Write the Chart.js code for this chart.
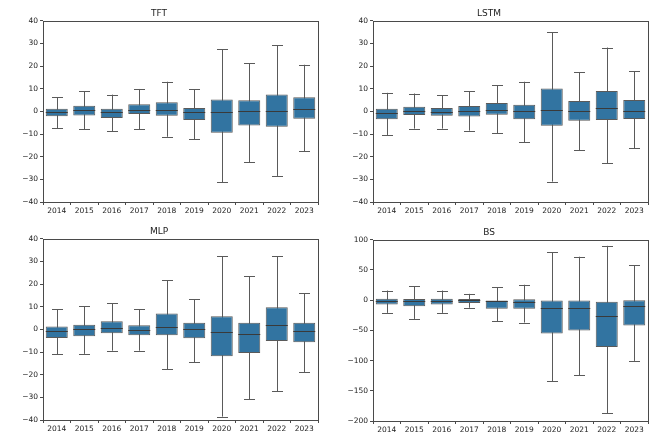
<!DOCTYPE html>
<html>
<head>
<meta charset="utf-8">
<script src="https://cdn.jsdelivr.net/npm/chart.js@4.4.1/dist/chart.umd.min.js"></script>
<style>
  body { margin: 0; background: #fff; }
  .box { position: absolute; width: 330px; height: 219px; }
</style>
</head>
<body>
<div class="box" style="left:0;top:0"><canvas id="tft"></canvas></div>
<div class="box" style="left:330px;top:0"><canvas id="lstm"></canvas></div>
<div class="box" style="left:0;top:218px"><canvas id="mlp"></canvas></div>
<div class="box" style="left:330px;top:219px"><canvas id="bs"></canvas></div>
<script>
const years = ['2014', '2015', '2016', '2017', '2018', '2019', '2020', '2021', '2022', '2023'];

// TFT
const tftLow = [-7.4, -7.9, -8.8, -7.8, -11.2, -12.2, -31.3, -22.4, -28.5, -17.5];
const tftQ1 = [-2.1, -1.8, -2.9, -1.2, -1.9, -3.8, -9.4, -6.2, -6.8, -3.2];
const tftMed = [-0.2, 0.7, -0.2, 0.7, 0.6, -0.3, -0.3, 0.1, 0.1, 1.0];
const tftQ3 = [1.2, 2.5, 1.2, 3.2, 4.0, 1.5, 5.3, 4.9, 7.5, 6.2];
const tftHigh = [6.3, 8.8, 7.4, 9.9, 13.1, 9.7, 27.4, 21.2, 29.1, 20.6];

// LSTM
const lstmLow = [-10.4, -7.6, -7.6, -8.5, -9.6, -13.7, -31.0, -17.1, -22.8, -16.2];
const lstmQ1 = [-3.5, -1.6, -1.9, -2.2, -1.5, -3.5, -6.3, -4.1, -3.8, -3.4];
const lstmMed = [-0.7, 0.1, -0.1, 0.1, 0.7, 0.3, 0.6, 0.1, 1.3, 0.1];
const lstmQ3 = [1.2, 2.1, 1.5, 2.4, 3.7, 2.9, 10.1, 4.6, 9.0, 5.0];
const lstmHigh = [8.2, 7.9, 7.1, 9.0, 11.6, 13.1, 34.9, 17.4, 28.2, 17.8];

// MLP
const mlpLow = [-11.0, -10.8, -9.4, -9.4, -17.5, -14.4, -38.5, -30.9, -27.2, -18.8];
const mlpQ1 = [-3.8, -3.0, -1.7, -2.6, -2.6, -3.9, -11.9, -10.4, -5.1, -5.7];
const mlpMed = [-0.8, 0.1, 0.7, -0.4, 1.1, 0.1, -1.3, -2.0, 1.8, -0.8];
const mlpQ3 = [1.3, 2.1, 3.6, 1.8, 7.0, 2.9, 5.8, 2.9, 9.8, 2.9];
const mlpHigh = [8.9, 10.2, 11.6, 8.8, 21.7, 13.3, 32.4, 23.5, 32.4, 16.0];

// BS
const bsLow = [-21, -31, -21, -12.5, -34.8, -37, -134.5, -124, -187, -100.5];
const bsQ1 = [-7, -10, -7, -4.6, -14.2, -14.2, -55, -50, -77.4, -42];
const bsMed = [-1.3, -1.3, -0.7, -0.2, -1.3, -3, -13.6, -12.5, -25.4, -9.7];
const bsQ3 = [2.6, 2, 2.6, 2, -0.7, 1.5, -0.7, -0.7, -2.4, -0.2];
const bsHigh = [16, 23, 16, 10.5, 21.7, 25.6, 79.2, 72, 90, 58];

const boxFill = '#3274a1';
const lineColor = '#5a5a5a';
const medianColor = '#3a3a3a';
const frameColor = '#4a4a4a';
const font = 'DejaVu Sans';

const boxPlugin = {
  id: 'boxParts',
  beforeDatasetsDraw(chart) {
    const st = chart.options.plugins.boxParts;
    const x = chart.scales.x, y = chart.scales.y;
    const meta = chart.getDatasetMeta(0);
    const ctx = chart.ctx;
    ctx.save();
    ctx.strokeStyle = lineColor;
    ctx.lineWidth = 1;
    st.low.forEach((v, i) => {
      const cx = Math.round(x.getPixelForValue(i)) + 0.5;
      const half = meta.data[i].width / 4;
      const yl = y.getPixelForValue(v), yh = y.getPixelForValue(st.high[i]);
      ctx.beginPath();
      ctx.moveTo(cx, yl); ctx.lineTo(cx, yh);
      ctx.moveTo(cx - half, Math.round(yl) + 0.5); ctx.lineTo(cx + half, Math.round(yl) + 0.5);
      ctx.moveTo(cx - half, Math.round(yh) + 0.5); ctx.lineTo(cx + half, Math.round(yh) + 0.5);
      ctx.stroke();
    });
    ctx.restore();
  },
  afterDatasetsDraw(chart) {
    const st = chart.options.plugins.boxParts;
    const x = chart.scales.x, y = chart.scales.y;
    const meta = chart.getDatasetMeta(0);
    const ctx = chart.ctx;
    ctx.save();
    ctx.strokeStyle = medianColor;
    ctx.lineWidth = 1;
    st.med.forEach((v, i) => {
      const cx = x.getPixelForValue(i);
      const half = meta.data[i].width / 2;
      const ym = Math.round(y.getPixelForValue(v)) + 0.5;
      ctx.beginPath();
      ctx.moveTo(cx - half, ym); ctx.lineTo(cx + half, ym);
      ctx.stroke();
    });
    const a = chart.chartArea;
    ctx.strokeStyle = frameColor;
    ctx.strokeRect(Math.round(a.left) + 0.5, Math.round(a.top) + 0.5,
      Math.round(a.right - a.left), Math.round(a.bottom - a.top));
    ctx.restore();
  }
};

function minus(v) {
  return String(v).replace('-', '\u2212');
}

function createBox(id, title, low, q1, med, q3, high, yMin, yMax, yStep) {
  const config = {
    type: 'bar',
    data: {
      labels: years,
      datasets: [{
        data: q1.map((v, i) => [v, q3[i]]),
        backgroundColor: boxFill,
        borderColor: lineColor,
        borderWidth: 1,
        borderSkipped: false,
        categoryPercentage: 0.8,
        barPercentage: 1
      }]
    },
    options: {
      animation: false,
      responsive: true,
      maintainAspectRatio: false,
      layout: { padding: { left: 0, right: 12, top: 0, bottom: 0 } },
      plugins: {
        legend: { display: false },
        tooltip: { enabled: false },
        title: {
          display: true,
          text: title,
          color: '#222',
          font: { family: font, size: 9, weight: 'normal' },
          padding: { top: 8, bottom: 2 }
        },
        boxParts: { low: low, med: med, high: high }
      },
      scales: {
        x: {
          grid: { display: true, drawOnChartArea: false, tickLength: 3, color: frameColor },
          border: { display: false },
          ticks: { color: '#222', font: { family: font, size: 7.5 }, padding: 2, maxRotation: 0 },
          afterFit(s) { s.height = 17; }
        },
        y: {
          min: yMin,
          max: yMax,
          grid: { display: true, drawOnChartArea: false, tickLength: 3, color: frameColor },
          border: { display: false },
          ticks: {
            stepSize: yStep,
            color: '#222',
            font: { family: font, size: 7.5 },
            padding: 2,
            callback: v => minus(v)
          },
          afterFit(s) { s.width = 43; }
        }
      }
    },
    plugins: [boxPlugin]
  };
  new Chart(document.getElementById(id), config);
}

createBox('tft', 'TFT', tftLow, tftQ1, tftMed, tftQ3, tftHigh, -40, 40, 10);
createBox('lstm', 'LSTM', lstmLow, lstmQ1, lstmMed, lstmQ3, lstmHigh, -40, 40, 10);
createBox('mlp', 'MLP', mlpLow, mlpQ1, mlpMed, mlpQ3, mlpHigh, -40, 40, 10);
createBox('bs', 'BS', bsLow, bsQ1, bsMed, bsQ3, bsHigh, -200, 100, 50);
</script>
</body>
</html>
